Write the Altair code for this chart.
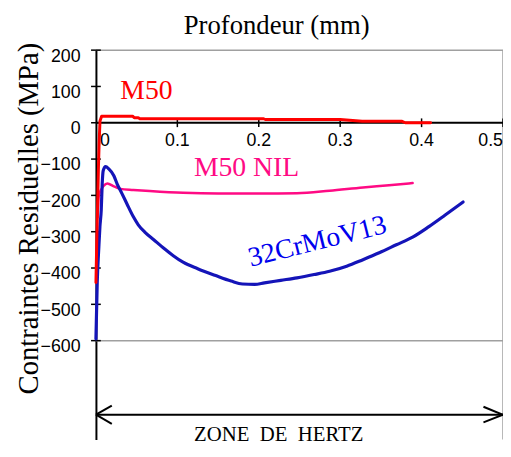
import altair as alt
import pandas as pd

# ---- data ----
M50_X = [0.0, 0.001, 0.002, 0.003, 0.004, 0.005, 0.007, 0.045, 0.047, 0.052, 0.054, 0.206, 0.208,
         0.30, 0.327, 0.376, 0.380, 0.411]
M50_Y = [-440, -330, -230, -130, -50, 5, 18, 18, 14, 14, 11, 11, 9,
         9, 4, 4, 0, 0]

NIL_X = [0.002, 0.0036, 0.0097, 0.014, 0.022, 0.030, 0.046, 0.066, 0.107, 0.15, 0.2, 0.247,
         0.287, 0.328, 0.36, 0.389]
NIL_Y = [-260, -200, -173, -167, -175, -182, -185, -188, -193, -195, -195, -194,
         -187, -178, -172, -166]

CR_X = [0.0, 0.0016, 0.0036, 0.0049, 0.0065, 0.0077, 0.0089, 0.0118, 0.0158, 0.022, 0.026,
        0.032, 0.038, 0.046, 0.052, 0.060, 0.071, 0.083, 0.095, 0.107, 0.125, 0.146, 0.166,
        0.180, 0.195, 0.207, 0.227, 0.247, 0.268, 0.287, 0.308, 0.328, 0.348, 0.369, 0.389,
        0.409, 0.429, 0.451]
CR_Y = [-595, -440, -341, -286, -241, -168, -132, -121, -127, -146, -168,
        -195, -223, -259, -281, -301, -322, -345, -366, -384, -402, -420, -436,
        -444, -445, -441, -434, -427, -418, -409, -395, -377, -358, -336, -315,
        -286, -254, -218]

Y_TICKS = [200, 100, 0, -100, -200, -300, -400, -500, -600]
X_TICKS = [0.1, 0.2, 0.3, 0.4]
X_LABELS = ["0.1", "0.2", "0.3", "0.4"]

SERIES_NAMES = ["M50", "M50 NIL", "32CrMoV13"]
SERIES_LABEL_X = [0.062, 0.185, 0.272]
SERIES_LABEL_Y = [87, -126, -328]

RED = "#ff0000"
PINK = "#ff0a84"
BLUE_LINE = "#1414b8"
BLUE_TEXT = "#0000ee"
GRAY = "#a0a0a0"

xs = alt.Scale(domain=[0, 0.5], nice=False, zero=False)
ys = alt.Scale(domain=[-872, 200], nice=False, zero=False)

yaxis = alt.Axis(values=Y_TICKS, ticks=False, grid=False, domain=True, domainColor="black",
                 domainWidth=2, labelFont="Liberation Sans", labelFontSize=18, labelColor="black",
                 labelPadding=16, labelOffset=6,
                 title="Contraintes Residuelles (MPa)", titleFont="Liberation Serif",
                 titleFontSize=29, titleFontWeight="normal", titleColor="black",
                 titleAngle=270, titleX=-59, titleY=170, titleBaseline="alphabetic",
                 titleAlign="center")


def X(f="x"):
    return alt.X(f + ":Q", scale=xs, axis=None)


def Y(f="y"):
    return alt.Y(f + ":Q", scale=ys, axis=yaxis)


def series(xv, yv):
    return pd.DataFrame({"x": xv, "y": yv, "i": list(range(len(xv)))})


def line(df, color, width, interp="linear"):
    return alt.Chart(df).mark_line(color=color, strokeWidth=width, strokeJoin="round",
                                   strokeCap="round", interpolate=interp).encode(
        x=X(), y=Y(), order="i:Q")


# frame (gray)
frame_df = pd.DataFrame({"x": [0, 0, 0.5], "x2": [0.5, 0.5, 0.5],
                         "y": [200, -600, 200], "y2": [200, -600, -872]})
frame = alt.Chart(frame_df).mark_rule(color=GRAY, strokeWidth=1.5).encode(
    x=X(), x2="x2:Q", y=Y(), y2="y2:Q")

# zero line + arrow (black)
black_df = pd.DataFrame({
    "x":  [0, 0, 0, 0, 0.5, 0.5],
    "x2": [0.5, 0.5, 0.0195, 0.0195, 0.476, 0.476],
    "y":  [0, -804, -804, -804, -804, -804],
    "y2": [0, -804, -779, -829, -782, -825],
})
blacks = alt.Chart(black_df).mark_rule(color="black", strokeWidth=2).encode(
    x=X(), x2="x2:Q", y=Y(), y2="y2:Q")

# x tick marks on zero line
XT = X_TICKS + [0.5]
xt_df = pd.DataFrame({"x": XT, "y": [-12] * len(XT), "y2": [12] * len(XT)})
xticks = alt.Chart(xt_df).mark_rule(color="black", strokeWidth=1.5).encode(
    x=X(), y=Y(), y2="y2:Q")

# y tick marks crossing the axis
yt_df = pd.DataFrame({"x": [-0.006] * len(Y_TICKS), "x2": [0.006] * len(Y_TICKS), "y": Y_TICKS})
yticks = alt.Chart(yt_df).mark_rule(color="black", strokeWidth=1.5).encode(
    x=X(), x2="x2:Q", y=Y())

# x tick labels
xl_df = pd.DataFrame({"x": X_TICKS, "y": [0] * len(X_TICKS), "t": X_LABELS})
xlabels = alt.Chart(xl_df).mark_text(font="Liberation Sans", fontSize=18, color="black",
                                     baseline="middle", align="center", dy=19).encode(
    x=X(), y=Y(), text="t:N")
x0_df = pd.DataFrame({"x": [0], "y": [0], "t": ["0"]})
x0label = alt.Chart(x0_df).mark_text(font="Liberation Sans", fontSize=18, color="black",
                                     baseline="middle", align="left", dx=4, dy=19).encode(
    x=X(), y=Y(), text="t:N")
x5_df = pd.DataFrame({"x": [0.5], "y": [0], "t": ["0.5"]})
x5label = alt.Chart(x5_df).mark_text(font="Liberation Sans", fontSize=18, color="black",
                                     baseline="middle", align="right", dx=0, dy=19).encode(
    x=X(), y=Y(), text="t:N")

# series lines
l_nil = line(series(NIL_X, NIL_Y), PINK, 2.5, "monotone")
l_cr = line(series(CR_X, CR_Y), BLUE_LINE, 3.2, "monotone")
l_m50 = line(series(M50_X, M50_Y), RED, 3)


# series labels
def label(i, color, angle=0):
    df = pd.DataFrame({"x": [SERIES_LABEL_X[i]], "y": [SERIES_LABEL_Y[i]], "t": [SERIES_NAMES[i]]})
    return alt.Chart(df).mark_text(font="Liberation Serif", fontSize=28, color=color,
                                   baseline="middle", align="center", angle=angle).encode(
        x=X(), y=Y(), text="t:N")


t_m50 = label(0, RED)
t_nil = label(1, PINK)
t_cr = label(2, BLUE_TEXT, 346)

zone_df = pd.DataFrame({"x": [0.2245], "y": [-859], "t": ["ZONE\u00a0\u00a0DE\u00a0\u00a0HERTZ"]})
zone = alt.Chart(zone_df).mark_text(font="Liberation Serif", fontSize=21, color="black",
                                    baseline="middle", align="center").encode(
    x=X(), y=Y(), text="t:N")

title_df = pd.DataFrame({"x": [0.222], "y": [244], "t": ["Profondeur (mm)"]})
title = alt.Chart(title_df).mark_text(font="Liberation Serif", fontSize=27, color="black",
                                      baseline="alphabetic", align="center").encode(
    x=X(), y=Y(), text="t:N")

chart = alt.layer(frame, blacks, xticks, yticks, xlabels, x0label, x5label,
                  l_nil, l_cr, l_m50, t_m50, t_nil, t_cr, zone, title).properties(
    width=412, height=394,
    autosize=alt.AutoSizeParams(type="none"),
    padding={"left": 89, "top": 40, "right": 0, "bottom": 3},
).configure_view(stroke=None)

chart.save("out.html", embed_options={"renderer": "svg", "actions": False})
